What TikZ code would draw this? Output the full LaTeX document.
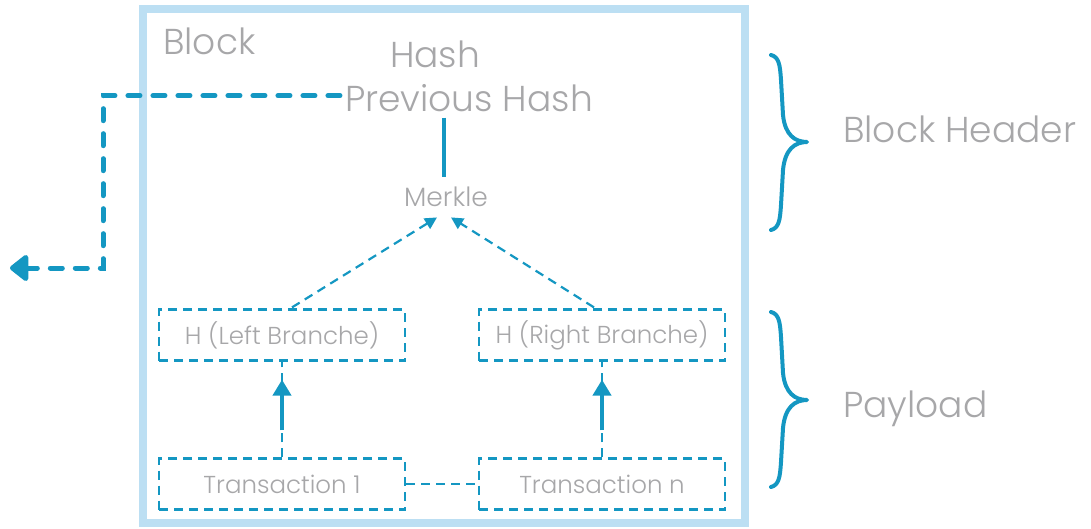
\documentclass[tikz,border=0pt]{standalone}
\usepackage{fontspec}
\setmainfont{Poppins}[UprightFont=* Light]
\usetikzlibrary{arrows.meta,calc}
\definecolor{dblue}{HTML}{1497C2}
\definecolor{lblue}{HTML}{BCDFF3}
\definecolor{tgray}{HTML}{A7A7A9}
\begin{document}
\begin{tikzpicture}[x=1pt,y=-1pt,
  big/.style={text=tgray,inner sep=0pt,font=\fontsize{36}{40}\selectfont},
  mid/.style={text=tgray,inner sep=0pt,font=\fontsize{26.5}{30}\selectfont},
  dbox/.style={draw=dblue,line width=2.2pt,dash pattern=on 9pt off 6pt,
    minimum width=246pt,minimum height=51pt,inner sep=0pt,
    text=tgray,font=\fontsize{24.5}{28}\selectfont},
  thin dash/.style={draw=dblue,line width=2.2pt,dash pattern=on 9pt off 6pt},
  solidarrow/.style={draw=dblue,line width=4pt,-{Triangle[length=16pt,width=18pt]}},
  brace/.style={draw=dblue,line width=4pt,line cap=round,line join=round},
]
\useasboundingbox (0,0) rectangle (1091,529);
% block frame
\draw[lblue,line width=8pt] (143,9) rectangle (745,523);

% texts
\node[big,anchor=base west] (block) at (163,55) {Block};
\node[big,anchor=base] (hash) at (435,68) {Hash};
\node[big,anchor=base] (prev) at (469,112) {Previous Hash};
\node[mid,anchor=base] (merkle) at (446,207) {Merkle};
\node[big,anchor=base west] (hdr) at (843,143) {Block Header};
\node[big,anchor=base west] (pay) at (843,417) {Payload};

% boxes
\node[dbox] (hl) at (282,335) {H (Left Branche)};
\node[dbox] (hr) at (602,335) {H (Right Branche)};
\node[dbox] (t1) at (282,484) {Transaction 1};
\node[dbox] (tn) at (602,484) {Transaction n};

% prev hash -> merkle solid line
\draw[dblue,line width=3.5pt] ($(prev.south)+(-25,5)$) -- ($(merkle.north)+(-2,-10)$);

% merkle dashed arrows
\coordinate (mL) at ($(merkle.south)+(-9,10)$);
\coordinate (mR) at ($(merkle.south)+(5,10)$);
\draw[thin dash,-{Triangle[length=12pt,width=12pt]}] ($(hl.north)+(10,-1)$) -- (mL);
\draw[thin dash,-{Triangle[length=12pt,width=12pt]}] ($(hr.north)+(-8,-1)$) -- (mR);

% transaction -> hash
\draw[thin dash] (t1.north) -- (hl.south);
\draw[thin dash] (tn.north) -- (hr.south);
\draw[solidarrow] ($(t1.north)+(0,-27)$) -- ($(hl.south)+(0,18)$);
\draw[solidarrow] ($(tn.north)+(0,-27)$) -- ($(hr.south)+(0,18)$);
\draw[thin dash] (t1.east) -- (tn.west);

% previous hash dashed link
\coordinate (turn) at (103,268);
\coordinate (out) at (10,268);
\coordinate (pstart) at ($(prev.west)+(-5,-3)$);
\draw[dblue,line width=5pt,line cap=round,dash pattern=on 12pt off 13pt,
  -{Triangle[length=20pt,width=30pt,round]}]
  (pstart) -- (pstart -| turn) -- (turn) -- (out);

% braces
\draw[brace] (771,55) .. controls (779,57) and (780,65) .. (781,80) -- (783,115)
  .. controls (785,135) and (795,142) .. (807,142)
  .. controls (795,142) and (785,149) .. (783,170) -- (781,205)
  .. controls (780,220) and (779,228) .. (771,230);
\draw[brace] (771,312) .. controls (779,314) and (780,322) .. (781,337) -- (783,373)
  .. controls (785,393) and (795,400) .. (807,400)
  .. controls (795,400) and (785,407) .. (783,428) -- (781,462)
  .. controls (780,477) and (779,485) .. (771,487);
\end{tikzpicture}
\end{document}
